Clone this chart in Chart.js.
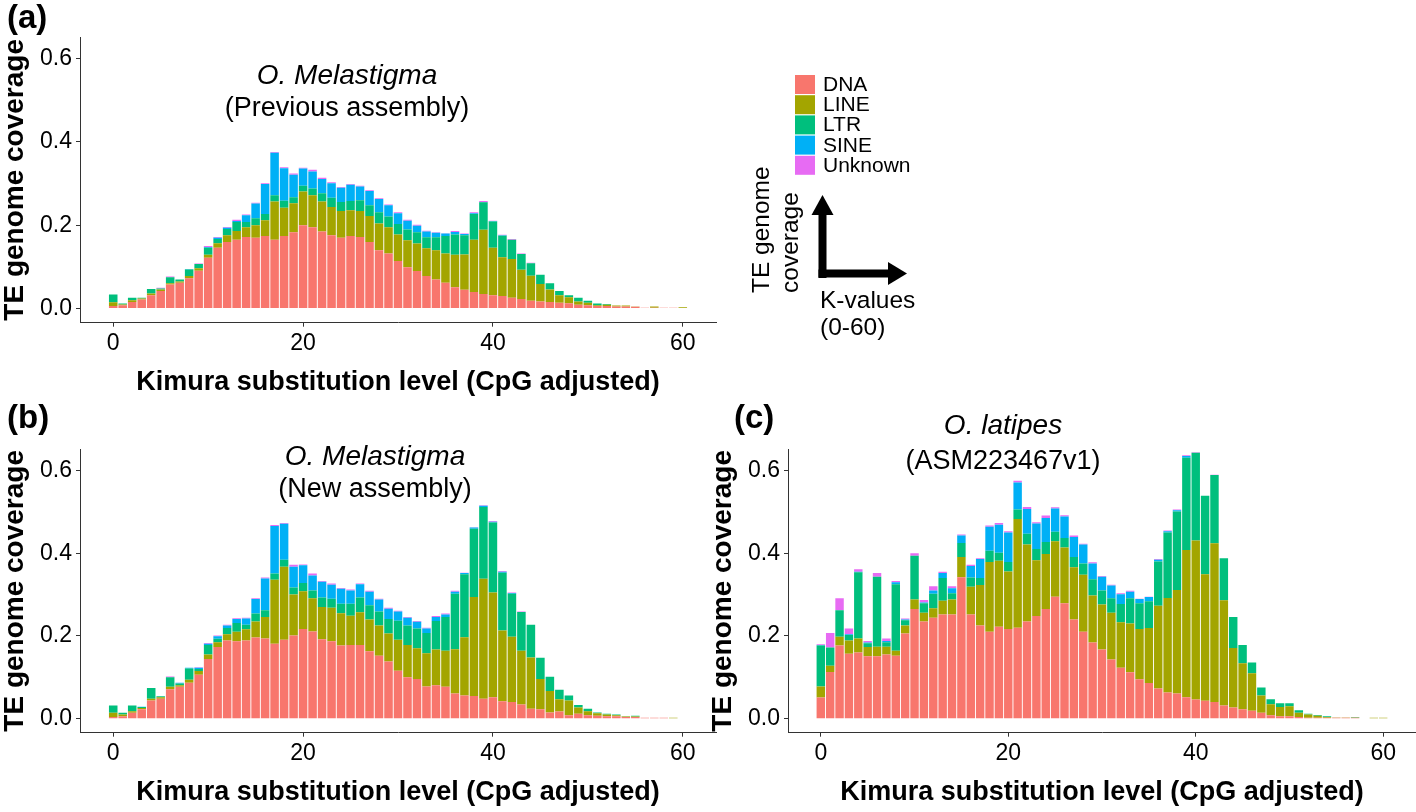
<!DOCTYPE html>
<html>
<head>
<meta charset="utf-8">
<title>TE landscapes</title>
<script src="https://cdn.jsdelivr.net/npm/chart.js@4.4.1/dist/chart.umd.min.js"></script>
<style>
  body { margin: 0; background: #fff; }
  #page { position: relative; width: 1416px; height: 812px; overflow: hidden; font-family: "Liberation Sans", Arial, sans-serif; }
  .panel { position: absolute; }
  #overlay { position: absolute; left: 0; top: 0; pointer-events: none; }
</style>
</head>
<body>
<div id="page">
  <div class="panel" style="left:0;top:0"><canvas id="chartA" width="720" height="400"></canvas></div>
  <div class="panel" style="left:0;top:412px"><canvas id="chartB" width="720" height="400"></canvas></div>
  <div class="panel" style="left:708px;top:412px"><canvas id="chartC" width="708" height="400"></canvas></div>

  <svg id="overlay" width="1416" height="812" font-family="Liberation Sans, Arial, sans-serif">
    <!-- panel letters -->
    <text x="7" y="28" font-size="33" font-weight="bold">(a)</text>
    <text x="7" y="428" font-size="33" font-weight="bold">(b)</text>
    <text x="734" y="428" font-size="33" font-weight="bold">(c)</text>

    <!-- panel titles -->
    <text x="347" y="84" font-size="28" font-style="italic" text-anchor="middle">O. Melastigma</text>
    <text x="347" y="116" font-size="27" text-anchor="middle">(Previous assembly)</text>
    <text x="375" y="465" font-size="28" font-style="italic" text-anchor="middle">O. Melastigma</text>
    <text x="375" y="497" font-size="27" text-anchor="middle">(New assembly)</text>
    <text x="1003" y="434" font-size="28" font-style="italic" text-anchor="middle">O. latipes</text>
    <text x="1003" y="469" font-size="27" text-anchor="middle">(ASM223467v1)</text>

    <!-- legend -->
    <g id="legend" font-size="21"></g>

    <!-- axes key -->
    <rect x="818.5" y="212" width="8" height="66" fill="#000"/>
    <polygon points="811.5,215 833.5,215 822.5,195" fill="#000"/>
    <rect x="818.5" y="269.5" width="71" height="8" fill="#000"/>
    <polygon points="888,262 888,285 907,273.5" fill="#000"/>
    <text transform="translate(769,293) rotate(-90)" font-size="24.5">TE genome</text>
    <text transform="translate(798,293) rotate(-90)" font-size="24.5">coverage</text>
    <text x="820" y="308" font-size="24.5">K-values</text>
    <text x="820" y="335" font-size="24.5">(0-60)</text>
  </svg>
</div>

<script>

// TE classes and ggplot default hues
var teClasses = ['DNA', 'LINE', 'LTR', 'SINE', 'Unknown'];
var teColors = ['#F8766D', '#A3A500', '#00BF7D', '#00B0F6', '#E76BF3'];

// Kimura bins 0..60, axis padded to -3..63 like the ggplot expansion
var kimura = [];
for (var k = 0; k <= 60; k++) kimura.push(k);
var axisLabels = [];
for (var a = -3; a <= 63; a++) axisLabels.push(String(a));

var xTicks = [0, 20, 40, 60];
var yTicks = [0, 0.2, 0.4, 0.6];

// (a) O. melastigma, previous assembly
var prevDNA = [0.006, 0.008, 0.016, 0.022, 0.032, 0.042, 0.058, 0.062, 0.073, 0.091, 0.122, 0.146, 0.160, 0.165, 0.172, 0.170, 0.174, 0.165, 0.174, 0.183, 0.200, 0.195, 0.185, 0.176, 0.170, 0.174, 0.172, 0.160, 0.140, 0.132, 0.114, 0.099, 0.090, 0.078, 0.070, 0.062, 0.051, 0.045, 0.040, 0.035, 0.032, 0.030, 0.026, 0.023, 0.019, 0.017, 0.016, 0.014, 0.013, 0.009, 0.008, 0.006, 0.006, 0.005, 0.005, 0.004, 0.002, 0.002, 0.002, 0.002, 0.001];
var prevLINE = [0.009, 0.002, 0.004, 0.002, 0.004, 0.004, 0.003, 0.003, 0.005, 0.006, 0.007, 0.011, 0.016, 0.021, 0.023, 0.030, 0.038, 0.092, 0.068, 0.070, 0.081, 0.077, 0.072, 0.068, 0.064, 0.062, 0.062, 0.062, 0.064, 0.063, 0.064, 0.065, 0.066, 0.067, 0.070, 0.070, 0.078, 0.085, 0.125, 0.154, 0.114, 0.093, 0.093, 0.070, 0.060, 0.042, 0.030, 0.018, 0.014, 0.008, 0.006, 0.002, 0.003, 0.002, 0.002, 0.001, 0, 0.003, 0, 0, 0.002];
var prevLTR = [0.019, 0.002, 0.006, 0.002, 0.011, 0.002, 0.014, 0.005, 0.016, 0.010, 0.017, 0.010, 0.015, 0.022, 0.013, 0.017, 0.015, 0.015, 0.017, 0.014, 0.014, 0.016, 0.020, 0.022, 0.022, 0.022, 0.026, 0.026, 0.027, 0.026, 0.025, 0.026, 0.027, 0.026, 0.031, 0.042, 0.049, 0.046, 0.062, 0.066, 0.063, 0.052, 0.046, 0.038, 0.030, 0.022, 0.015, 0.010, 0.005, 0.009, 0.005, 0.004, 0.002, 0, 0, 0, 0, 0, 0, 0, 0];
var prevSINE = [0, 0, 0, 0, 0, 0, 0, 0, 0.001, 0, 0.002, 0.003, 0.003, 0.002, 0.016, 0.035, 0.072, 0.102, 0.078, 0.054, 0.041, 0.041, 0.034, 0.035, 0.034, 0.039, 0.033, 0.034, 0.032, 0.027, 0.026, 0.021, 0.016, 0.014, 0.011, 0.006, 0.006, 0.003, 0.002, 0.001, 0.001, 0.001, 0, 0, 0, 0, 0, 0, 0, 0, 0, 0, 0, 0, 0, 0, 0, 0, 0, 0, 0];
var prevUnknown = [0, 0, 0, 0, 0, 0.002, 0.002, 0, 0, 0.001, 0.002, 0.002, 0.002, 0.003, 0.002, 0.002, 0.002, 0.002, 0.002, 0.003, 0.002, 0.004, 0.003, 0.002, 0.002, 0.002, 0.002, 0.002, 0.002, 0.002, 0.002, 0.002, 0.002, 0.002, 0.001, 0.001, 0.002, 0.001, 0.002, 0.002, 0.001, 0.001, 0.002, 0.001, 0.001, 0, 0, 0, 0, 0, 0, 0, 0, 0, 0, 0, 0, 0, 0, 0, 0];

// (b) O. melastigma, new assembly
var newDNA = [0.004, 0.006, 0.014, 0.023, 0.044, 0.048, 0.071, 0.077, 0.087, 0.106, 0.144, 0.173, 0.189, 0.187, 0.189, 0.196, 0.194, 0.181, 0.191, 0.201, 0.217, 0.211, 0.192, 0.187, 0.177, 0.178, 0.178, 0.163, 0.152, 0.138, 0.116, 0.100, 0.096, 0.078, 0.081, 0.077, 0.061, 0.056, 0.055, 0.048, 0.052, 0.042, 0.040, 0.034, 0.024, 0.023, 0.015, 0.017, 0.008, 0.012, 0.008, 0.007, 0.006, 0.006, 0.004, 0.004, 0.002, 0.002, 0.002, 0.001, 0];
var newLINE = [0.010, 0.004, 0.004, 0.003, 0.004, 0.004, 0.006, 0.004, 0.007, 0.009, 0.011, 0.012, 0.015, 0.023, 0.027, 0.039, 0.052, 0.155, 0.176, 0.099, 0.091, 0.080, 0.078, 0.081, 0.078, 0.071, 0.079, 0.077, 0.073, 0.068, 0.075, 0.078, 0.074, 0.080, 0.086, 0.087, 0.107, 0.141, 0.239, 0.290, 0.253, 0.171, 0.158, 0.130, 0.124, 0.073, 0.052, 0.030, 0.036, 0.015, 0.010, 0.006, 0.004, 0.002, 0.001, 0.001, 0, 0, 0, 0.001, 0];
var newLTR = [0.018, 0.004, 0.014, 0.002, 0.026, 0.002, 0.023, 0.004, 0.027, 0.005, 0.023, 0.008, 0.015, 0.021, 0.011, 0.019, 0.016, 0.015, 0.017, 0.017, 0.020, 0.019, 0.023, 0.022, 0.023, 0.029, 0.036, 0.034, 0.034, 0.035, 0.046, 0.047, 0.048, 0.049, 0.069, 0.082, 0.134, 0.152, 0.165, 0.174, 0.169, 0.140, 0.104, 0.094, 0.079, 0.051, 0.034, 0.023, 0.012, 0.006, 0.006, 0.002, 0.002, 0.002, 0.001, 0.002, 0, 0, 0, 0, 0];
var newSINE = [0, 0, 0, 0.001, 0, 0, 0, 0.002, 0.002, 0.003, 0.003, 0.006, 0.006, 0.010, 0.015, 0.035, 0.077, 0.115, 0.087, 0.050, 0.043, 0.036, 0.038, 0.034, 0.036, 0.032, 0.032, 0.033, 0.029, 0.025, 0.022, 0.019, 0.016, 0.011, 0.010, 0.006, 0.005, 0.003, 0.003, 0.003, 0.002, 0.002, 0.002, 0, 0, 0, 0, 0, 0, 0, 0, 0, 0, 0, 0, 0, 0, 0, 0, 0, 0];
var newUnknown = [0, 0, 0, 0, 0, 0, 0.002, 0, 0, 0.001, 0.002, 0.002, 0.002, 0.002, 0.002, 0.002, 0.002, 0.002, 0.002, 0.005, 0.002, 0.005, 0.002, 0.003, 0.002, 0.002, 0.002, 0.002, 0.002, 0.002, 0.002, 0.002, 0.002, 0.002, 0.002, 0.002, 0.002, 0.001, 0.001, 0.001, 0.002, 0.002, 0.001, 0.001, 0, 0, 0, 0, 0, 0, 0, 0, 0, 0, 0, 0, 0, 0, 0, 0, 0];

// (c) O. latipes, ASM223467v1
var latDNA = [0.051, 0.113, 0.177, 0.157, 0.160, 0.151, 0.151, 0.155, 0.152, 0.206, 0.265, 0.235, 0.244, 0.252, 0.252, 0.342, 0.252, 0.225, 0.210, 0.222, 0.217, 0.220, 0.235, 0.248, 0.265, 0.295, 0.279, 0.240, 0.210, 0.184, 0.167, 0.143, 0.123, 0.112, 0.095, 0.086, 0.073, 0.063, 0.061, 0.052, 0.046, 0.043, 0.040, 0.032, 0.027, 0.023, 0.019, 0.014, 0.008, 0.006, 0.006, 0.004, 0.002, 0.002, 0.002, 0.002, 0.002, 0.002, 0, 0, 0];
var latLINE = [0.027, 0.015, 0.021, 0.032, 0.034, 0.022, 0.023, 0.019, 0.012, 0.019, 0.023, 0.021, 0.023, 0.033, 0.036, 0.049, 0.067, 0.098, 0.169, 0.160, 0.139, 0.263, 0.186, 0.135, 0.133, 0.134, 0.135, 0.126, 0.138, 0.114, 0.109, 0.113, 0.110, 0.118, 0.122, 0.133, 0.200, 0.229, 0.250, 0.356, 0.385, 0.306, 0.384, 0.254, 0.144, 0.111, 0.091, 0.042, 0.027, 0.022, 0.024, 0.010, 0.008, 0.005, 0.002, 0.001, 0.001, 0.001, 0, 0.002, 0.002];
var latLTR = [0.099, 0.044, 0.064, 0.013, 0.160, 0.009, 0.169, 0.011, 0.161, 0.013, 0.106, 0.023, 0.035, 0.055, 0.015, 0.034, 0.022, 0.017, 0.027, 0.019, 0.023, 0.023, 0.026, 0.027, 0.029, 0.023, 0.023, 0.025, 0.027, 0.039, 0.034, 0.035, 0.044, 0.061, 0.062, 0.065, 0.107, 0.158, 0.190, 0.223, 0.212, 0.190, 0.165, 0.102, 0.075, 0.044, 0.026, 0.019, 0.012, 0.009, 0.007, 0.006, 0.002, 0.002, 0.002, 0, 0, 0.001, 0, 0, 0];
var latSINE = [0.001, 0, 0, 0.002, 0.001, 0.002, 0, 0.003, 0.005, 0.002, 0, 0.002, 0.008, 0.012, 0.012, 0.018, 0.028, 0.046, 0.058, 0.068, 0.071, 0.065, 0.060, 0.062, 0.058, 0.056, 0.052, 0.048, 0.046, 0.038, 0.033, 0.031, 0.024, 0.016, 0.010, 0.010, 0.004, 0.003, 0.003, 0.004, 0, 0, 0, 0, 0, 0, 0, 0, 0, 0, 0, 0, 0, 0, 0, 0, 0, 0, 0, 0, 0];
var latUnknown = [0.002, 0.035, 0.029, 0.014, 0.006, 0.004, 0.009, 0.006, 0.003, 0.002, 0.006, 0.006, 0.010, 0.003, 0.005, 0.002, 0.003, 0.002, 0.003, 0.004, 0.003, 0.004, 0.005, 0.003, 0.006, 0.003, 0.003, 0.004, 0.002, 0.003, 0.002, 0.002, 0.002, 0.002, 0.001, 0.001, 0.002, 0.002, 0.002, 0.002, 0.001, 0, 0.001, 0, 0, 0, 0, 0, 0, 0, 0, 0, 0, 0, 0, 0, 0, 0, 0, 0, 0];


function buildDatasets(series) {
    return teClasses.map(function (name, i) {
        return {
            label: name,
            data: series[i].map(function (v, j) {
                return { x: String(kimura[j]), y: v };
            }),
            backgroundColor: teColors[i],
            borderWidth: 0,
            barPercentage: 0.9,
            categoryPercentage: 1
        };
    });
}

function makePanel(canvasId, series, box) {
    var ctx = document.getElementById(canvasId).getContext('2d');
    return new Chart(ctx, {
        type: 'bar',
        data: {
            labels: axisLabels,
            datasets: buildDatasets(series)
        },
        options: {
            responsive: false,
            animation: false,
            events: [],
            layout: {
                padding: { top: 37, right: box.padRight, bottom: 0, left: 0 }
            },
            plugins: {
                legend: { display: false },
                tooltip: { enabled: false },
                title: { display: false }
            },
            scales: {
                x: {
                    type: 'category',
                    stacked: true,
                    offset: true,
                    grid: { drawOnChartArea: false, offset: false, tickLength: 4, color: '#333333' },
                    border: { display: true, color: '#333333', width: 1 },
                    ticks: {
                        autoSkip: false,
                        maxRotation: 0,
                        padding: 3,
                        color: '#000',
                        font: { family: 'Liberation Sans', size: 23 }
                    },
                    afterBuildTicks: function (axis) {
                        axis.ticks = axis.ticks.filter(function (t) {
                            return xTicks.indexOf(Number(axis.getLabelForValue(t.value))) >= 0;
                        });
                    },
                    afterFit: function (axis) {
                        axis.height = box.xHeight;
                    },
                    title: {
                        display: true,
                        text: 'Kimura substitution level (CpG adjusted)',
                        color: '#000',
                        font: { family: 'Liberation Sans', size: 27, weight: 'bold', lineHeight: 1.2 },
                        padding: { top: 0, bottom: box.titlePad }
                    }
                },
                y: {
                    type: 'linear',
                    stacked: true,
                    min: -0.034,
                    max: 0.652,
                    grid: { drawOnChartArea: false, tickLength: 4, color: '#333333' },
                    border: { display: true, color: '#333333', width: 1 },
                    ticks: {
                        padding: 4,
                        color: '#000',
                        font: { family: 'Liberation Sans', size: 23 },
                        callback: function (value) {
                            return value.toFixed(1);
                        }
                    },
                    afterBuildTicks: function (axis) {
                        axis.ticks = yTicks.map(function (v) { return { value: v }; });
                    },
                    afterFit: function (axis) {
                        axis.width = box.yWidth;
                    },
                    title: {
                        display: true,
                        text: 'TE genome coverage',
                        color: '#000',
                        font: { family: 'Liberation Sans', size: 28, weight: 'bold', lineHeight: 1.1 },
                        padding: 0
                    }
                }
            }
        }
    });
}

function drawLegend() {
    var g = document.getElementById('legend');
    var ns = 'http://www.w3.org/2000/svg';
    teClasses.forEach(function (name, i) {
        var top = 75 + i * 20.2;
        var r = document.createElementNS(ns, 'rect');
        r.setAttribute('x', 795);
        r.setAttribute('y', top);
        r.setAttribute('width', 20);
        r.setAttribute('height', 19);
        r.setAttribute('fill', teColors[i]);
        g.appendChild(r);
        var t = document.createElementNS(ns, 'text');
        t.setAttribute('x', 823);
        t.setAttribute('y', top + 16);
        t.textContent = name;
        g.appendChild(t);
    });
}

drawLegend();
makePanel('chartA', [prevDNA, prevLINE, prevLTR, prevSINE, prevUnknown], { padRight: 4, xHeight: 77.3, titlePad: 1, yWidth: 80 });
makePanel('chartB', [newDNA, newLINE, newLTR, newSINE, newUnknown], { padRight: 4, xHeight: 79.3, titlePad: 3, yWidth: 80 });
makePanel('chartC', [latDNA, latLINE, latLTR, latSINE, latUnknown], { padRight: 0, xHeight: 79.3, titlePad: 3, yWidth: 80 });

</script>
</body>
</html>
